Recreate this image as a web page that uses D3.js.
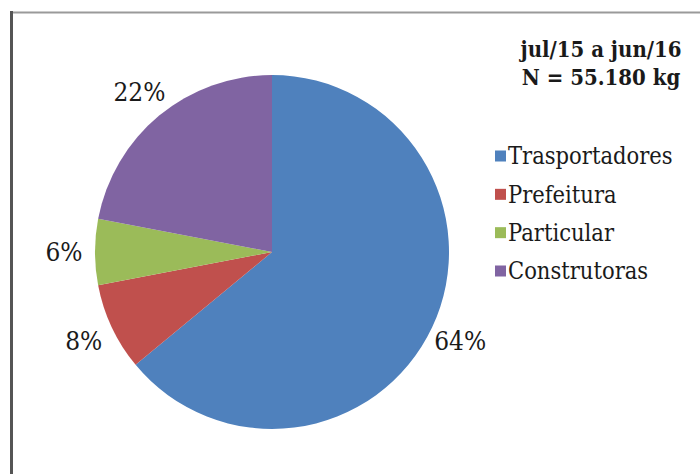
<!DOCTYPE html>
<html>
<head>
<meta charset="utf-8">
<script src="https://cdn.jsdelivr.net/npm/d3@7"></script>
<style>
  html, body { margin: 0; padding: 0; background: #fff; }
  svg { display: block; }
  svg text { font-family: "DejaVu Serif", "Noto Serif", serif; }
</style>
</head>
<body>
<svg id="chart" width="700" height="474"></svg>
<script>
// Origem dos resíduos recebidos (jul/15 a jun/16)
const categories = ["Trasportadores", "Prefeitura", "Particular", "Construtoras"];
const values = [64, 8, 6, 22];
const colors = ["#4F81BD", "#C0504D", "#9BBB59", "#8064A2"];
const titleLines = ["jul/15 a jun/16", "N = 55.180 kg"];

const svg = d3.select("#chart");

// Chart frame with its darker left edge
svg.append("rect")
  .attr("x", 11.5).attr("y", 12.5)
  .attr("width", 720).attr("height", 500)
  .attr("fill", "#fff")
  .attr("stroke", "#9a9a9a").attr("stroke-width", 2);
svg.append("line")
  .attr("x1", 11.5).attr("x2", 11.5).attr("y1", 11).attr("y2", 474)
  .attr("stroke", "#555").attr("stroke-width", 3);

const cx = 272, cy = 252, r = 177;
const data = categories.map((c, i) => ({ name: c, value: values[i], color: colors[i] }));

const pie = d3.pie().sort(null).value(d => d.value);
const arcs = pie(data);
const arc = d3.arc().innerRadius(0).outerRadius(r);
const labelArc = d3.arc().innerRadius(r + 31).outerRadius(r + 31);

const g = svg.append("g").attr("transform", `translate(${cx},${cy})`);
g.selectAll("path.slice")
  .data(arcs)
  .join("path")
  .attr("class", "slice")
  .attr("d", arc)
  .attr("fill", d => d.data.color);

// Percent labels, the serif face narrowed a little
g.selectAll("text.pct")
  .data(arcs)
  .join("text")
  .attr("class", "pct")
  .attr("transform", d => `translate(${labelArc.centroid(d)}) scale(0.9,1)`)
  .attr("text-anchor", "middle")
  .attr("dy", "0.35em")
  .attr("font-size", 26)
  .attr("fill", "#1a1a1a")
  .text(d => d.data.value + "%");

// Period and sample size
svg.append("g").selectAll("text")
  .data(titleLines)
  .join("text")
  .attr("transform", (d, i) => `translate(601,${57 + i * 28}) scale(0.9,1)`)
  .attr("text-anchor", "middle")
  .attr("font-weight", "bold")
  .attr("font-size", 22)
  .attr("fill", "#1a1a1a")
  .text(d => d);

// Legend
const legend = svg.append("g").attr("transform", "translate(495,0)");
const rowY = d3.scalePoint().domain(categories).range([156, 271]);
const rows = legend.selectAll("g").data(data).join("g")
  .attr("transform", d => `translate(0,${rowY(d.name)})`);
rows.append("rect")
  .attr("x", 0).attr("y", -5.5).attr("width", 11).attr("height", 11)
  .attr("fill", d => d.color);
rows.append("text")
  .attr("transform", "translate(13,0) scale(0.88,1)")
  .attr("dy", "0.35em")
  .attr("font-size", 24)
  .attr("fill", "#1a1a1a")
  .text(d => d.name);
</script>
</body>
</html>
